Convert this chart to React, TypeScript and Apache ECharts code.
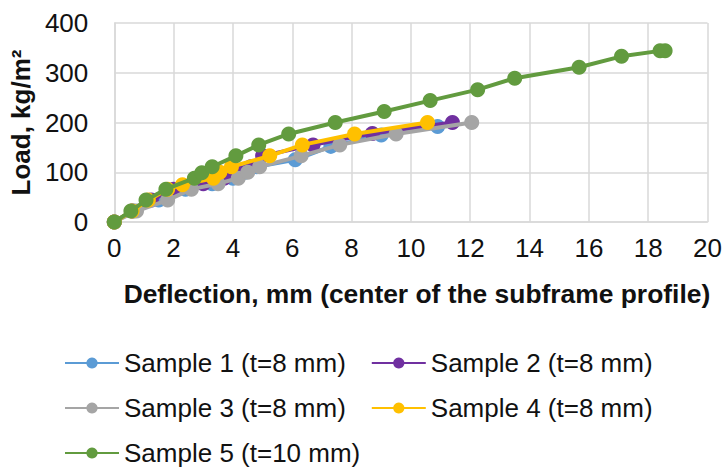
import React, { useEffect, useRef } from "react";
import * as echarts from "echarts";

const seriesNames = [
  "Sample 1 (t=8 mm)",
  "Sample 2 (t=8 mm)",
  "Sample 3 (t=8 mm)",
  "Sample 4 (t=8 mm)",
  "Sample 5 (t=10 mm)",
];
const seriesColors = ["#5B9BD5", "#7030A0", "#A5A5A5", "#FFC000", "#629B3F"];

const s1X = [0, 0.65, 1.5, 2.4, 3.3, 4.0, 4.4, 4.8, 6.1, 7.3, 9.0, 10.9];
const s1Y = [0, 22, 44, 66, 77, 88, 100, 111, 125, 152, 175, 192];

const s2X = [0, 0.6, 1.25, 2.0, 3.0, 3.7, 4.2, 4.6, 5.0, 6.7, 8.7, 11.4];
const s2Y = [0, 22, 44, 66, 77, 88, 100, 111, 133, 155, 178, 200];

const s3X = [0, 0.75, 1.8, 2.6, 3.5, 4.18, 4.5, 4.9, 6.3, 7.6, 9.5, 12.05];
const s3Y = [0, 22, 44, 66, 77, 88, 100, 111, 133, 155, 177, 200];

const s4X = [0, 0.6, 1.15, 1.8, 2.3, 3.34, 3.56, 3.95, 5.24, 6.34, 8.1, 10.56];
const s4Y = [0, 22, 44, 66, 75, 88, 100, 111, 133, 155, 177, 200];

const s5X = [0, 0.56, 1.07, 1.74, 2.7, 2.95, 3.3, 4.1, 4.87, 5.88, 7.45, 9.1, 10.65, 12.25, 13.5, 15.67, 17.1, 18.4, 18.57];
const s5Y = [0, 22, 44, 66, 88, 99, 111, 133, 155, 177, 200, 222, 244, 266, 289, 311, 333, 344, 344];

const allX = [s1X, s2X, s3X, s4X, s5X];
const allY = [s1Y, s2Y, s3Y, s4Y, s5Y];

const xTicks = { min: 0, max: 20, interval: 2 };
const yTicks = { min: 0, max: 400, interval: 100 };

const FONT = "Liberation Sans, Arial, sans-serif";

export default function App() {
  const ref = useRef<HTMLDivElement>(null);
  useEffect(() => {
    if (!ref.current) return;
    const chart = echarts.init(ref.current, undefined, { renderer: "svg" });
    const legendBase = {
      orient: "horizontal",
      left: 64,
      padding: 0,
      itemWidth: 54,
      itemHeight: 14,
      itemGap: 25,
      textStyle: { fontFamily: FONT, fontSize: 26, color: "#111" },
    };
    chart.setOption({
      animation: false,
      backgroundColor: "#fff",
      grid: { left: 114, right: 16, top: 23, bottom: 246, containLabel: false },
      xAxis: {
        type: "value",
        min: xTicks.min,
        max: xTicks.max,
        interval: xTicks.interval,
        name: "Deflection, mm (center of the subframe profile)",
        nameLocation: "middle",
        nameGap: 59,
        nameTextStyle: {
          fontFamily: FONT,
          fontSize: 26.4,
          fontWeight: "bold",
          color: "#111",
          padding: [0, 0, 0, 12],
        },
        axisLine: { show: true, lineStyle: { color: "#D9D9D9", width: 1.5 } },
        axisTick: { show: false },
        axisLabel: { fontFamily: FONT, fontSize: 26, color: "#111", margin: 13 },
        splitLine: { show: true, lineStyle: { color: "#D9D9D9", width: 1.5 } },
      },
      yAxis: {
        type: "value",
        min: yTicks.min,
        max: yTicks.max,
        interval: yTicks.interval,
        name: "Load, kg/m²",
        nameLocation: "middle",
        nameGap: 76,
        nameTextStyle: { fontFamily: FONT, fontSize: 26, fontWeight: "bold", color: "#111" },
        axisLine: { show: true, lineStyle: { color: "#D9D9D9", width: 1.5 } },
        axisTick: { show: false },
        axisLabel: { fontFamily: FONT, fontSize: 26, color: "#111", margin: 26 },
        splitLine: { show: true, lineStyle: { color: "#D9D9D9", width: 1.5 } },
      },
      legend: [
        { ...legendBase, top: 350, data: [seriesNames[0], seriesNames[1]] },
        { ...legendBase, top: 395, data: [seriesNames[2], seriesNames[3]] },
        { ...legendBase, top: 440, data: [seriesNames[4]] },
      ],
      series: seriesNames.map((name, i) => ({
        name,
        type: "line",
        data: allX[i].map((x, j) => [x, allY[i][j]]),
        symbol: "circle",
        symbolSize: 15,
        showSymbol: true,
        lineStyle: { color: seriesColors[i], width: 4 },
        itemStyle: { color: seriesColors[i] },
        z: 2 + i,
      })),
    });
    return () => chart.dispose();
  }, []);
  return (
    <div
      ref={ref}
      style={{ position: "absolute", left: 0, top: 0, width: 725, height: 468 }}
    />
  );
}
